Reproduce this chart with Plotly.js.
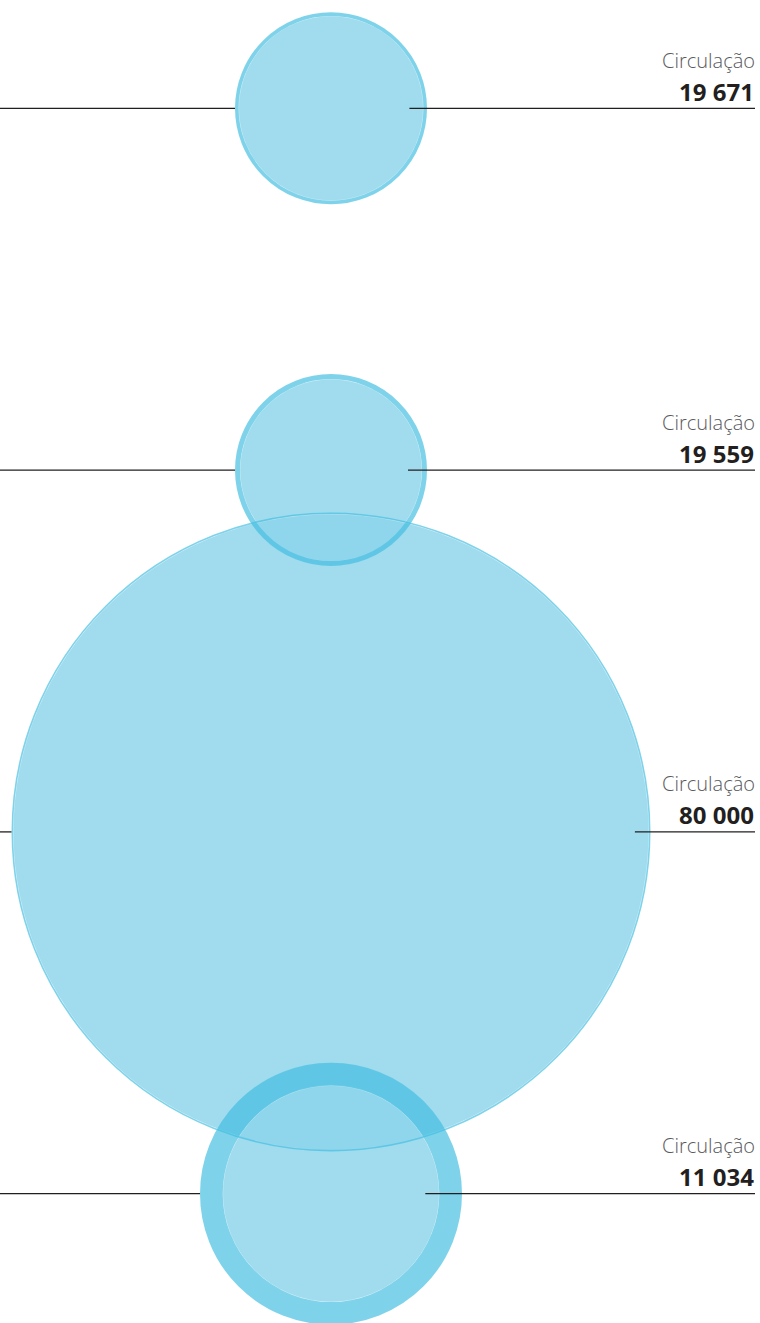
<!DOCTYPE html>
<html>
<head>
<meta charset="utf-8">
<script src="https://cdn.plot.ly/plotly-3.0.1.min.js"></script>
<style>
  html, body { margin: 0; padding: 0; background: #ffffff; }
  #chart { width: 760px; height: 1323px; }
</style>
</head>
<body>
<div id="chart"></div>
<script>
// ---- data ----
const rows = [0, 1, 2, 3];
const labels = ['Circulação', 'Circulação', 'Circulação', 'Circulação'];
const circulation = [19671, 19559, 80000, 11034];
const circulationText = ['19 671', '19 559', '80 000', '11 034'];
// bubble measures (outer diameter and ring thickness, px)
const outerBubble = [192, 192, 639, 262];
const ringBubble = [3.6, 5, 1.6, 22.7];

// ---- layout constants ----
const W = 760, H = 1323;
const CX = 331;
const firstRowPx = 108.3, rowStepPx = 361.8;
const yTop = -firstRowPx / rowStepPx;
const yBottom = (H - firstRowPx) / rowStepPx;

const fillColor = 'rgba(139,211,234,0.82)';
const ringColor = 'rgba(62,190,224,0.67)';
const edgeColor = 'rgba(255,255,255,0.35)';
const lineColor = '#231f20';

const cxArr = rows.map(() => CX);
const innerDiam = outerBubble.map((d, i) => d - 2 * ringBubble[i]);
const ringMidDiam = outerBubble.map((d, i) => d - ringBubble[i]);

const traces = [];
// inner disks
traces.push({
  type: 'scatter', mode: 'markers', x: cxArr, y: rows,
  marker: { size: innerDiam, opacity: 1, color: fillColor, line: { width: 1, color: edgeColor } },
  hoverinfo: 'skip', showlegend: false
});
// rings
traces.push({
  type: 'scatter', mode: 'markers', x: cxArr, y: rows,
  marker: { size: ringMidDiam, opacity: 1, color: 'rgba(0,0,0,0)', line: { width: ringBubble, color: ringColor } },
  hoverinfo: 'skip', showlegend: false
});
// leader lines
rows.forEach((r, i) => {
  const outerR = outerBubble[i] / 2;
  const innerR = innerDiam[i] / 2;
  traces.push({
    type: 'scatter', mode: 'lines', x: [0, CX - outerR], y: [r, r],
    line: { color: lineColor, width: 1.3 }, hoverinfo: 'skip', showlegend: false
  });
  traces.push({
    type: 'scatter', mode: 'lines', x: [CX + innerR - 14, 755], y: [r, r],
    line: { color: lineColor, width: 1.3 }, hoverinfo: 'skip', showlegend: false
  });
});

const annotations = [];
rows.forEach((r, i) => {
  annotations.push({
    x: 757, y: r, xref: 'x', yref: 'y', xanchor: 'right', yanchor: 'middle',
    yshift: 48, showarrow: false, text: labels[i],
    font: { family: 'Open Sans, Noto Sans, sans-serif', size: 20, color: '#58595b', weight: 300 }
  });
  annotations.push({
    x: 756, y: r, xref: 'x', yref: 'y', xanchor: 'right', yanchor: 'middle',
    yshift: 17, showarrow: false, text: '<b>' + circulationText[i] + '</b>',
    font: { family: 'Open Sans, Noto Sans, sans-serif', size: 24, color: '#231f20' }
  });
});

const layout = {
  width: W, height: H,
  margin: { l: 0, r: 0, t: 0, b: 0, pad: 0 },
  paper_bgcolor: '#ffffff', plot_bgcolor: '#ffffff',
  showlegend: false,
  hovermode: false,
  xaxis: { range: [0, W], visible: false, fixedrange: true },
  yaxis: { range: [yBottom, yTop], visible: false, fixedrange: true },
  annotations: annotations
};

Plotly.newPlot('chart', traces, layout, { staticPlot: true, displayModeBar: false });
</script>
</body>
</html>
